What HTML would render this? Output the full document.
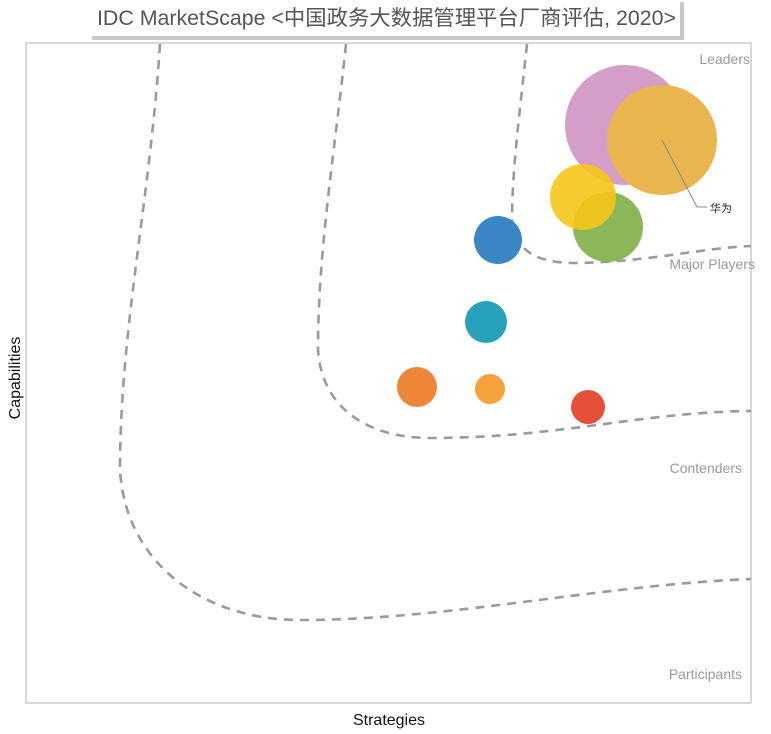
<!DOCTYPE html>
<html><head><meta charset="utf-8"><style>
html,body{margin:0;padding:0;background:#fff;width:771px;height:734px;overflow:hidden}
svg{display:block}
</style></head><body>
<svg width="771" height="734" viewBox="0 0 771 734" xmlns="http://www.w3.org/2000/svg">
<rect x="26" y="43" width="725" height="660" fill="#fff" stroke="#bdbdbd" stroke-width="1.2"/>
<rect x="92" y="36" width="592" height="4" fill="#c8c8c8"/>
<rect x="680" y="2" width="4" height="38" fill="#c8c8c8"/>
<rect x="88" y="0" width="592" height="36" fill="#fff"/>
<text x="97" y="25" textLength="579" lengthAdjust="spacingAndGlyphs" font-family="Liberation Sans, 'Noto Sans CJK SC', sans-serif" font-size="21" fill="#555">IDC MarketScape &lt;中国政务大数据管理平台厂商评估, 2020&gt;</text>
<g fill="none" stroke="#9a9a9a" stroke-width="2.6" stroke-dasharray="9,7">
<path d="M160 44 C150 200 120 330 120 470 C125 560 200 620 300 620 C450 620 600 585 751 579"/>
<path d="M346 44 C335 150 318 250 318 350 C322 410 370 438 430 438 C560 438 640 412 751 411"/>
<path d="M527 44 C520 110 512 170 512 220 C515 250 535 263 575 263 C650 262 700 248 751 246"/>
</g>
<g font-family="Liberation Sans, sans-serif" font-size="14" fill="#999" text-anchor="end">
<text x="750" y="64">Leaders</text>
<text x="755" y="269">Major Players</text>
<text x="742" y="473">Contenders</text>
<text x="742" y="679">Participants</text>
</g>
<circle cx="625" cy="125" r="60" fill="#d49ec9"/>
<circle cx="662" cy="140" r="55" fill="#e8b54f"/>
<circle cx="608" cy="227" r="35" fill="#86b350" opacity="0.95"/>
<circle cx="583" cy="197" r="33" fill="#f5c518" opacity="0.9"/>
<circle cx="498" cy="240" r="24" fill="#3b86c4"/>
<circle cx="486" cy="322" r="21" fill="#27a2ba"/>
<circle cx="417" cy="387" r="20" fill="#ee8638"/>
<circle cx="490" cy="389" r="15" fill="#f4a23a"/>
<circle cx="588" cy="407" r="17" fill="#e5503b"/>
<polyline points="662,140 697,207 707,207" fill="none" stroke="#888" stroke-width="1"/>
<text x="710" y="212" font-family="Liberation Sans, 'Noto Sans CJK SC', sans-serif" font-size="11" fill="#222">华为</text>
<text x="389" y="725" text-anchor="middle" font-family="Liberation Sans, sans-serif" font-size="16" fill="#111">Strategies</text>
<text transform="translate(20,378) rotate(-90)" text-anchor="middle" font-family="Liberation Sans, sans-serif" font-size="16" fill="#111">Capabilities</text>
</svg>
</body></html>
